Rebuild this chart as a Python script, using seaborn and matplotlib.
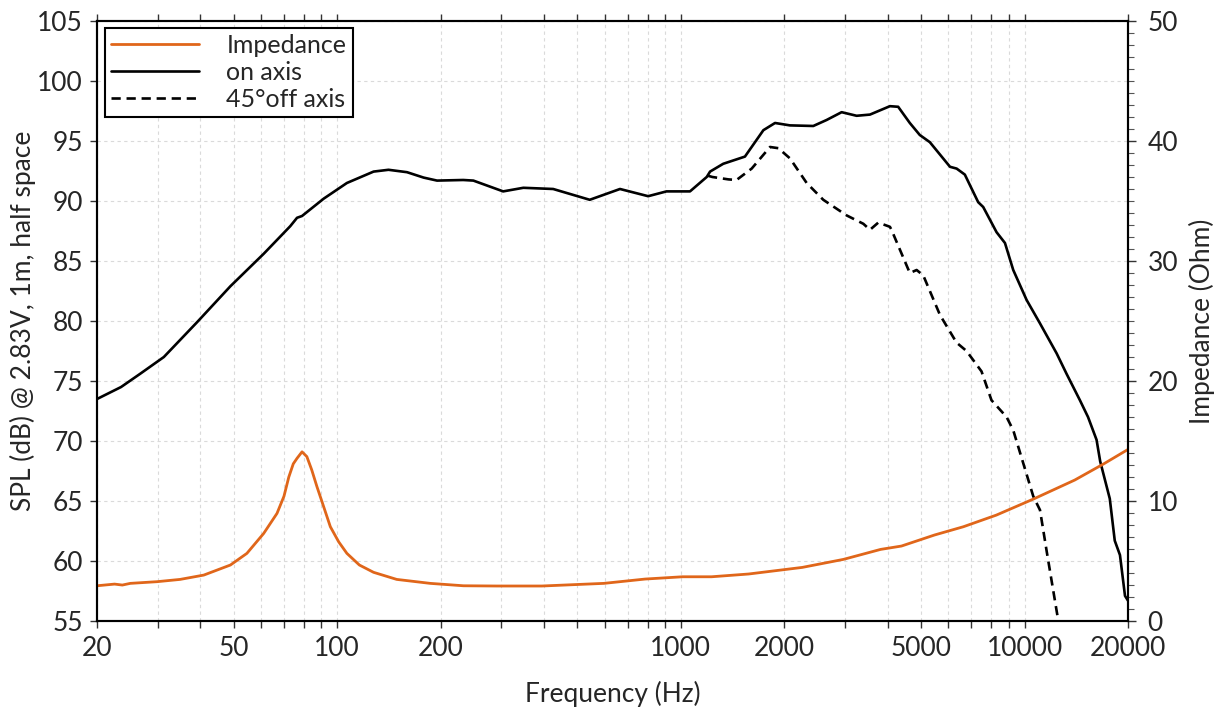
import matplotlib
matplotlib.use("Agg")
import matplotlib.pyplot as plt
import matplotlib.ticker as mticker
import seaborn as sns
import pandas as pd

# ---------------------------------------------------------------------------
# Data
# ---------------------------------------------------------------------------

on_axis_freq = [20, 23.5, 26.7, 31.3, 39.1, 48.9, 61.1, 73.0, 76.4, 79.0, 91.4,
                106.7, 127.6, 141, 159.6, 178.4, 195.2, 232.6, 249, 304, 348,
                425, 543, 665, 803, 908, 1063, 1189, 1216, 1328, 1536,
                1738, 1879, 2076, 2428, 2655, 2936, 3246, 3550, 4057, 4288,
                4636, 4956, 5302, 6068, 6344, 6702, 7330, 7580, 8290, 8770,
                9270, 10140, 11090, 12400, 13250, 14490, 15300, 16200, 16600, 17700,
                18300, 18950, 19600, 20000]
on_axis_spl = [73.5, 74.5, 75.6, 77.0, 79.9, 82.9, 85.6, 87.9, 88.6, 88.75, 90.2,
               91.5, 92.45, 92.6, 92.4, 91.95, 91.7, 91.75, 91.7, 90.8, 91.1,
               91.0, 90.1, 91.0, 90.4, 90.8, 90.8, 92.0, 92.45, 93.1, 93.7,
               95.9, 96.5, 96.3, 96.25, 96.75, 97.4, 97.1, 97.2, 97.9, 97.85,
               96.5, 95.5, 94.9, 92.85, 92.7, 92.2, 89.9, 89.5, 87.4, 86.5,
               84.25, 81.75, 79.8, 77.3, 75.6, 73.4, 72.0, 70.1, 68.3, 65.2,
               61.7, 60.5, 57.1, 56.7]

off_axis_freq = [1200, 1235, 1375, 1452, 1607, 1817, 1921, 2077, 2323, 2596,
                 3036, 3396, 3550, 3753, 4057, 4100, 4636, 4853, 5073, 5675,
                 6340, 6780, 7496, 8013, 8866, 9270, 10600, 11090, 11600, 12540]
off_axis_spl = [92.1, 92.0, 91.8, 91.75, 92.7, 94.5, 94.4, 93.55, 91.5, 90.1,
                88.8, 88.1, 87.6, 88.2, 87.85, 87.6, 84.0, 84.25, 83.8, 80.5,
                78.2, 77.5, 75.8, 73.4, 72.0, 70.9, 65.4, 64.25, 60.8, 55.0]

imp_freq = [20, 22.5, 23.7, 25, 29.9, 34.9, 40.9, 48.9, 54.6, 61.1,
            66.8, 70, 72.3, 74.5, 76.4, 79, 81.6, 84.3, 87.3, 91.4,
            95.5, 101, 106.7, 116, 127.6, 149, 186.5, 233, 291, 394,
            597, 787, 1011, 1228, 1574, 2255, 2973, 3812, 4384, 5470,
            6640, 8280, 10620, 14000, 17000, 20000]
imp_ohm = [2.94, 3.08, 3.0, 3.14, 3.28, 3.47, 3.83, 4.67, 5.64, 7.3,
           8.97, 10.4, 12.0, 13.1, 13.56, 14.1, 13.7, 12.6, 11.2, 9.5,
           7.86, 6.6, 5.64, 4.67, 4.06, 3.47, 3.14, 2.94, 2.92, 2.92,
           3.14, 3.5, 3.69, 3.69, 3.92, 4.47, 5.14, 5.97, 6.25, 7.17,
           7.86, 8.83, 10.17, 11.75, 13.1, 14.3]

x_tick_values = [20, 50, 100, 200, 1000, 2000, 5000, 10000, 20000]
x_tick_labels = ["20", "50", "100", "200", "1000", "2000", "5000", "10000", "20000"]

IMP_COLOR = "#e0661a"
GRID_COLOR = "#dadada"
DASH = (0, (3.5, 2.2))

on_df = pd.DataFrame({"freq": on_axis_freq, "spl": on_axis_spl})
off_df = pd.DataFrame({"freq": off_axis_freq, "spl": off_axis_spl})
imp_df = pd.DataFrame({"freq": imp_freq, "ohm": imp_ohm})

# ---------------------------------------------------------------------------
# Plot
# ---------------------------------------------------------------------------

sns.set_style("white")
plt.rcParams["font.family"] = ["Lato", "DejaVu Sans"]
plt.rcParams["font.size"] = 19

fig, ax = plt.subplots(figsize=(12.2, 7.23), dpi=100)
fig.subplots_adjust(left=0.0795, right=0.9246, bottom=0.141, top=0.971)
ax2 = ax.twinx()

sns.lineplot(data=on_df, x="freq", y="spl", ax=ax, color="black", lw=1.9)
sns.lineplot(data=off_df, x="freq", y="spl", ax=ax, color="black", lw=1.9,
             linestyle=DASH)
sns.lineplot(data=imp_df, x="freq", y="ohm", ax=ax2, color=IMP_COLOR, lw=2.0)

ax.set_xscale("log")
ax.set_xlim(20, 20000)
ax.set_ylim(55, 105)
ax2.set_ylim(0, 50)

ax.xaxis.set_major_locator(mticker.FixedLocator(x_tick_values))
ax.xaxis.set_major_formatter(mticker.FixedFormatter(x_tick_labels))
ax.xaxis.set_minor_locator(mticker.LogLocator(base=10, subs=range(1, 10), numticks=20))
ax.xaxis.set_minor_formatter(mticker.NullFormatter())
ax.yaxis.set_major_locator(mticker.MultipleLocator(5))
ax2.yaxis.set_major_locator(mticker.MultipleLocator(10))
ax2.yaxis.set_minor_locator(mticker.MultipleLocator(1))

ax.tick_params(axis="x", which="both", direction="out", length=5, width=1,
               top=True, bottom=True, labelsize=19, pad=6, color="#333333")
ax.tick_params(axis="y", which="both", direction="out", length=5, width=1,
               left=True, right=False, labelsize=19, pad=5, color="#333333")
ax2.tick_params(axis="y", which="major", direction="out", length=6, width=1,
                right=True, labelsize=19, pad=8, color="#333333")
ax2.tick_params(axis="y", which="minor", direction="out", length=4, width=0.8,
                right=True, color="#555555")

ax.grid(True, which="both", axis="x", linestyle=(0, (3, 3)), color=GRID_COLOR, lw=0.8)
ax.grid(True, which="major", axis="y", linestyle=(0, (3, 3)), color=GRID_COLOR, lw=0.8)
ax2.grid(False)

for a in (ax, ax2):
    for s in a.spines.values():
        s.set_color("black")
        s.set_linewidth(1.5)

ax.set_xlabel("Frequency (Hz)", fontsize=19, labelpad=14)
ax.set_ylabel("SPL (dB) @ 2.83V, 1m, half space", fontsize=19, labelpad=1)
ax2.set_ylabel("Impedance (Ohm)", fontsize=19, labelpad=8)

handles = [
    plt.Line2D([0], [0], color=IMP_COLOR, lw=2.0),
    plt.Line2D([0], [0], color="black", lw=1.9),
    plt.Line2D([0], [0], color="black", lw=1.9, linestyle=DASH),
]
leg = ax2.legend(handles, ["Impedance", "on axis", "45°off axis"],
                 loc="upper left", bbox_to_anchor=(0.003, 0.997), fontsize=18,
                 frameon=True, fancybox=False, framealpha=1, edgecolor="black",
                 handlelength=3.5, handletextpad=1.1, labelspacing=0.15,
                 borderpad=0.25, borderaxespad=0.2)
leg.get_frame().set_linewidth(1.5)

fig.savefig("out.png", dpi=100)
